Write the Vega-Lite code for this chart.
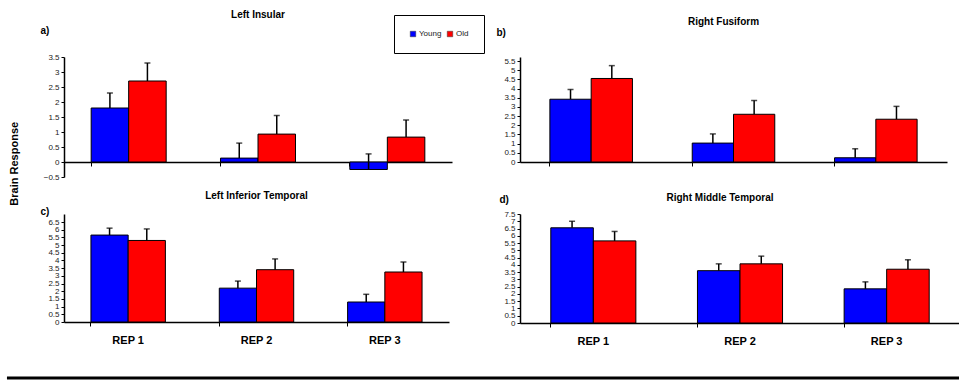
{
  "$schema": "https://vega.github.io/schema/vega-lite/v6.json",
  "padding": {"left": 5, "top": 10, "right": 0, "bottom": 0},
  "background": "white",
  "config": {
    "view": {"stroke": null},
    "font": "Liberation Sans",
    "axis": {"domainColor": "black", "tickColor": "black", "labelColor": "#222222", "grid": false, "labelFont": "Liberation Sans", "titleFont": "Liberation Sans"},
    "legend": {"orient": "none", "legendX": 330, "legendY": -42, "direction": "horizontal", "strokeColor": "black", "fillColor": "white", "padding": 15, "symbolType": "square", "symbolSize": 30, "labelFontSize": 8, "labelColor": "#222222", "labelOffset": 2, "columnPadding": 4, "symbolStrokeColor": "#333333", "symbolStrokeWidth": 0.5}
  },
  "title": {"text": "Brain Response", "orient": "left", "anchor": "middle", "fontSize": 11, "fontWeight": "bold", "color": "black", "offset": -15, "dx": 31},
  "datasets": {
    "d": [
      {"panel": "a", "rep": "REP 1", "group": "Young", "value": 1.8, "err": 2.3},
      {"panel": "a", "rep": "REP 1", "group": "Old", "value": 2.7, "err": 3.3},
      {"panel": "a", "rep": "REP 2", "group": "Young", "value": 0.13, "err": 0.63},
      {"panel": "a", "rep": "REP 2", "group": "Old", "value": 0.93, "err": 1.55},
      {"panel": "a", "rep": "REP 3", "group": "Young", "value": -0.25, "err": 0.27},
      {"panel": "a", "rep": "REP 3", "group": "Old", "value": 0.83, "err": 1.4},
      {"panel": "b", "rep": "REP 1", "group": "Young", "value": 3.42, "err": 3.95},
      {"panel": "b", "rep": "REP 1", "group": "Old", "value": 4.55, "err": 5.25},
      {"panel": "b", "rep": "REP 2", "group": "Young", "value": 1.03, "err": 1.53},
      {"panel": "b", "rep": "REP 2", "group": "Old", "value": 2.6, "err": 3.35},
      {"panel": "b", "rep": "REP 3", "group": "Young", "value": 0.23, "err": 0.72},
      {"panel": "b", "rep": "REP 3", "group": "Old", "value": 2.33, "err": 3.03},
      {"panel": "c", "rep": "REP 1", "group": "Young", "value": 5.65, "err": 6.1},
      {"panel": "c", "rep": "REP 1", "group": "Old", "value": 5.3, "err": 6.05},
      {"panel": "c", "rep": "REP 2", "group": "Young", "value": 2.2, "err": 2.66},
      {"panel": "c", "rep": "REP 2", "group": "Old", "value": 3.4, "err": 4.1},
      {"panel": "c", "rep": "REP 3", "group": "Young", "value": 1.3, "err": 1.8},
      {"panel": "c", "rep": "REP 3", "group": "Old", "value": 3.25, "err": 3.9},
      {"panel": "d", "rep": "REP 1", "group": "Young", "value": 6.55, "err": 7.0},
      {"panel": "d", "rep": "REP 1", "group": "Old", "value": 5.65, "err": 6.3},
      {"panel": "d", "rep": "REP 2", "group": "Young", "value": 3.6, "err": 4.07},
      {"panel": "d", "rep": "REP 2", "group": "Old", "value": 4.07, "err": 4.6},
      {"panel": "d", "rep": "REP 3", "group": "Young", "value": 2.35, "err": 2.83},
      {"panel": "d", "rep": "REP 3", "group": "Old", "value": 3.7, "err": 4.35}
    ]
  },
  "resolve": {"scale": {"x": "independent", "y": "independent", "xOffset": "independent"}},
  "bounds": "flush",
  "columns": 2,
  "spacing": {"row": 37, "column": 68},
  "concat": [
    {
      "width": 388, "height": 120,
      "title": {"text": "Left Insular", "fontSize": 10, "fontWeight": "bold", "color": "black", "offset": 5},
      "data": {"name": "d"},
      "transform": [{"filter": "datum.panel == 'a'"}],
      "encoding": {
        "x": {"field": "rep", "type": "nominal", "scale": {"paddingInner": 0.42, "paddingOuter": 0.21}, "axis": {"labels": false, "title": null, "bandPosition": 0, "tickSize": 4, "domainWidth": 1.5, "offset": -15}},
        "xOffset": {"field": "group", "type": "nominal", "sort": ["Young", "Old"], "scale": {"paddingInner": 0, "paddingOuter": 0}},
        "y": {"field": "value", "type": "quantitative", "scale": {"domain": [-0.5, 3.5], "nice": false, "zero": false}, "axis": {"values": [-0.5, 0, 0.5, 1, 1.5, 2, 2.5, 3, 3.5], "format": "~g", "labelFontSize": 8, "tickSize": 3, "labelPadding": 2, "labelOverlap": false, "domainWidth": 1.5, "title": "a)", "titleAngle": 0, "titleAlign": "left", "titleBaseline": "alphabetic", "titleX": -24, "titleY": -24, "titleFontSize": 10, "titleFontWeight": "bold", "titleColor": "black"}}
      },
      "layer": [
        {"mark": {"type": "bar", "stroke": "black", "strokeWidth": 1},
         "encoding": {"color": {"field": "group", "type": "nominal", "scale": {"domain": ["Young", "Old"], "range": ["#0000ff", "#ff0000"]}, "legend": {"title": null}}}},
        {"mark": {"type": "rule", "strokeWidth": 1.5, "color": "black"}, "encoding": {"y2": {"field": "err"}}},
        {"mark": {"type": "tick", "orient": "horizontal", "size": 6, "thickness": 1.5, "color": "black"}, "encoding": {"y": {"field": "err", "type": "quantitative", "scale": {"domain": [-0.5, 3.5], "nice": false, "zero": false}, "axis": {"values": [-0.5, 0, 0.5, 1, 1.5, 2, 2.5, 3, 3.5], "format": "~g", "labelFontSize": 8, "tickSize": 3, "labelPadding": 2, "labelOverlap": false, "domainWidth": 1.5, "title": "a)", "titleAngle": 0, "titleAlign": "left", "titleBaseline": "alphabetic", "titleX": -24, "titleY": -24, "titleFontSize": 10, "titleFontWeight": "bold", "titleColor": "black"}}}}
      ]
    },
    {
      "width": 427, "height": 105,
      "title": {"text": "Right Fusiform", "fontSize": 10, "fontWeight": "bold", "color": "black", "offset": 0, "dx": -10},
      "data": {"name": "d"},
      "transform": [{"filter": "datum.panel == 'b'"}],
      "encoding": {
        "x": {"field": "rep", "type": "nominal", "scale": {"paddingInner": 0.42, "paddingOuter": 0.21}, "axis": {"labels": false, "title": null, "bandPosition": 0, "tickSize": 4, "domainWidth": 1.5}},
        "xOffset": {"field": "group", "type": "nominal", "sort": ["Young", "Old"], "scale": {"paddingInner": 0, "paddingOuter": 0}},
        "y": {"field": "value", "type": "quantitative", "scale": {"domain": [0, 5.72], "nice": false}, "axis": {"values": [0, 0.5, 1, 1.5, 2, 2.5, 3, 3.5, 4, 4.5, 5, 5.5], "format": "~g", "labelFontSize": 8, "tickSize": 3, "labelPadding": 2, "labelOverlap": false, "domainWidth": 1.5, "title": "b)", "titleAngle": 0, "titleAlign": "left", "titleBaseline": "alphabetic", "titleX": -24, "titleY": -22, "titleFontSize": 10, "titleFontWeight": "bold", "titleColor": "black"}}
      },
      "layer": [
        {"mark": {"type": "bar", "stroke": "black", "strokeWidth": 1},
         "encoding": {"color": {"field": "group", "type": "nominal", "scale": {"domain": ["Young", "Old"], "range": ["#0000ff", "#ff0000"]}}}},
        {"mark": {"type": "rule", "strokeWidth": 1.5, "color": "black"}, "encoding": {"y2": {"field": "err"}}},
        {"mark": {"type": "tick", "orient": "horizontal", "size": 6, "thickness": 1.5, "color": "black"}, "encoding": {"y": {"field": "err", "type": "quantitative", "scale": {"domain": [0, 5.72], "nice": false}, "axis": {"values": [0, 0.5, 1, 1.5, 2, 2.5, 3, 3.5, 4, 4.5, 5, 5.5], "format": "~g", "labelFontSize": 8, "tickSize": 3, "labelPadding": 2, "labelOverlap": false, "domainWidth": 1.5, "title": "b)", "titleAngle": 0, "titleAlign": "left", "titleBaseline": "alphabetic", "titleX": -24, "titleY": -22, "titleFontSize": 10, "titleFontWeight": "bold", "titleColor": "black"}}}}
      ]
    },
    {
      "width": 385, "height": 108,
      "title": {"text": "Left Inferior Temporal", "fontSize": 10, "fontWeight": "bold", "color": "black", "offset": 5},
      "data": {"name": "d"},
      "transform": [{"filter": "datum.panel == 'c'"}],
      "encoding": {
        "x": {"field": "rep", "type": "nominal", "scale": {"paddingInner": 0.42, "paddingOuter": 0.21}, "axis": {"title": null, "labelFontSize": 11, "labelFontWeight": "bold", "labelColor": "black", "labelAngle": 0, "labelPadding": 8, "tickSize": 4, "domainWidth": 1.5, "bandPosition": 0}},
        "xOffset": {"field": "group", "type": "nominal", "sort": ["Young", "Old"], "scale": {"paddingInner": 0, "paddingOuter": 0}},
        "y": {"field": "value", "type": "quantitative", "scale": {"domain": [0, 7.02], "nice": false}, "axis": {"values": [0, 0.5, 1, 1.5, 2, 2.5, 3, 3.5, 4, 4.5, 5, 5.5, 6, 6.5], "format": "~g", "labelFontSize": 8, "tickSize": 3, "labelPadding": 2, "labelOverlap": false, "domainWidth": 1.5, "title": "c)", "titleAngle": 0, "titleAlign": "left", "titleBaseline": "alphabetic", "titleX": -24, "titleY": 0, "titleFontSize": 10, "titleFontWeight": "bold", "titleColor": "black"}}
      },
      "layer": [
        {"mark": {"type": "bar", "stroke": "black", "strokeWidth": 1},
         "encoding": {"color": {"field": "group", "type": "nominal", "scale": {"domain": ["Young", "Old"], "range": ["#0000ff", "#ff0000"]}}}},
        {"mark": {"type": "rule", "strokeWidth": 1.5, "color": "black"}, "encoding": {"y2": {"field": "err"}}},
        {"mark": {"type": "tick", "orient": "horizontal", "size": 6, "thickness": 1.5, "color": "black"}, "encoding": {"y": {"field": "err", "type": "quantitative", "scale": {"domain": [0, 7.02], "nice": false}, "axis": {"values": [0, 0.5, 1, 1.5, 2, 2.5, 3, 3.5, 4, 4.5, 5, 5.5, 6, 6.5], "format": "~g", "labelFontSize": 8, "tickSize": 3, "labelPadding": 2, "labelOverlap": false, "domainWidth": 1.5, "title": "c)", "titleAngle": 0, "titleAlign": "left", "titleBaseline": "alphabetic", "titleX": -24, "titleY": 0, "titleFontSize": 10, "titleFontWeight": "bold", "titleColor": "black"}}}}
      ]
    },
    {
      "width": 440, "height": 109,
      "title": {"text": "Right Middle Temporal", "fontSize": 10, "fontWeight": "bold", "color": "black", "offset": -9, "dx": -20},
      "data": {"name": "d"},
      "transform": [{"filter": "datum.panel == 'd'"}],
      "encoding": {
        "x": {"field": "rep", "type": "nominal", "scale": {"paddingInner": 0.42, "paddingOuter": 0.21}, "axis": {"title": null, "labelFontSize": 11, "labelFontWeight": "bold", "labelColor": "black", "labelAngle": 0, "labelPadding": 8, "tickSize": 4, "domainWidth": 1.5, "bandPosition": 0}},
        "xOffset": {"field": "group", "type": "nominal", "sort": ["Young", "Old"], "scale": {"paddingInner": 0, "paddingOuter": 0}},
        "y": {"field": "value", "type": "quantitative", "scale": {"domain": [0, 7.5], "nice": false}, "axis": {"values": [0, 0.5, 1, 1.5, 2, 2.5, 3, 3.5, 4, 4.5, 5, 5.5, 6, 6.5, 7, 7.5], "format": "~g", "labelFontSize": 8, "tickSize": 3, "labelPadding": 2, "labelOverlap": false, "domainWidth": 1.5, "title": "d)", "titleAngle": 0, "titleAlign": "left", "titleBaseline": "alphabetic", "titleX": -21, "titleY": -12, "titleFontSize": 10, "titleFontWeight": "bold", "titleColor": "black"}}
      },
      "layer": [
        {"mark": {"type": "bar", "stroke": "black", "strokeWidth": 1},
         "encoding": {"color": {"field": "group", "type": "nominal", "scale": {"domain": ["Young", "Old"], "range": ["#0000ff", "#ff0000"]}}}},
        {"mark": {"type": "rule", "strokeWidth": 1.5, "color": "black"}, "encoding": {"y2": {"field": "err"}}},
        {"mark": {"type": "tick", "orient": "horizontal", "size": 6, "thickness": 1.5, "color": "black"}, "encoding": {"y": {"field": "err", "type": "quantitative", "scale": {"domain": [0, 7.5], "nice": false}, "axis": {"values": [0, 0.5, 1, 1.5, 2, 2.5, 3, 3.5, 4, 4.5, 5, 5.5, 6, 6.5, 7, 7.5], "format": "~g", "labelFontSize": 8, "tickSize": 3, "labelPadding": 2, "labelOverlap": false, "domainWidth": 1.5, "title": "d)", "titleAngle": 0, "titleAlign": "left", "titleBaseline": "alphabetic", "titleX": -21, "titleY": -12, "titleFontSize": 10, "titleFontWeight": "bold", "titleColor": "black"}}}}
      ]
    },
    {
      "width": 388, "height": 18,
      "data": {"values": [{}]},
      "mark": {"type": "rule", "strokeWidth": 3, "color": "black"},
      "encoding": {
        "x": {"datum": -0.147, "type": "quantitative", "scale": {"domain": [0, 1], "nice": false}, "axis": null},
        "x2": {"datum": 2.33},
        "y": {"datum": 0, "type": "quantitative", "scale": {"domain": [0, 1], "nice": false}, "axis": null}
      }
    }
  ]
}
